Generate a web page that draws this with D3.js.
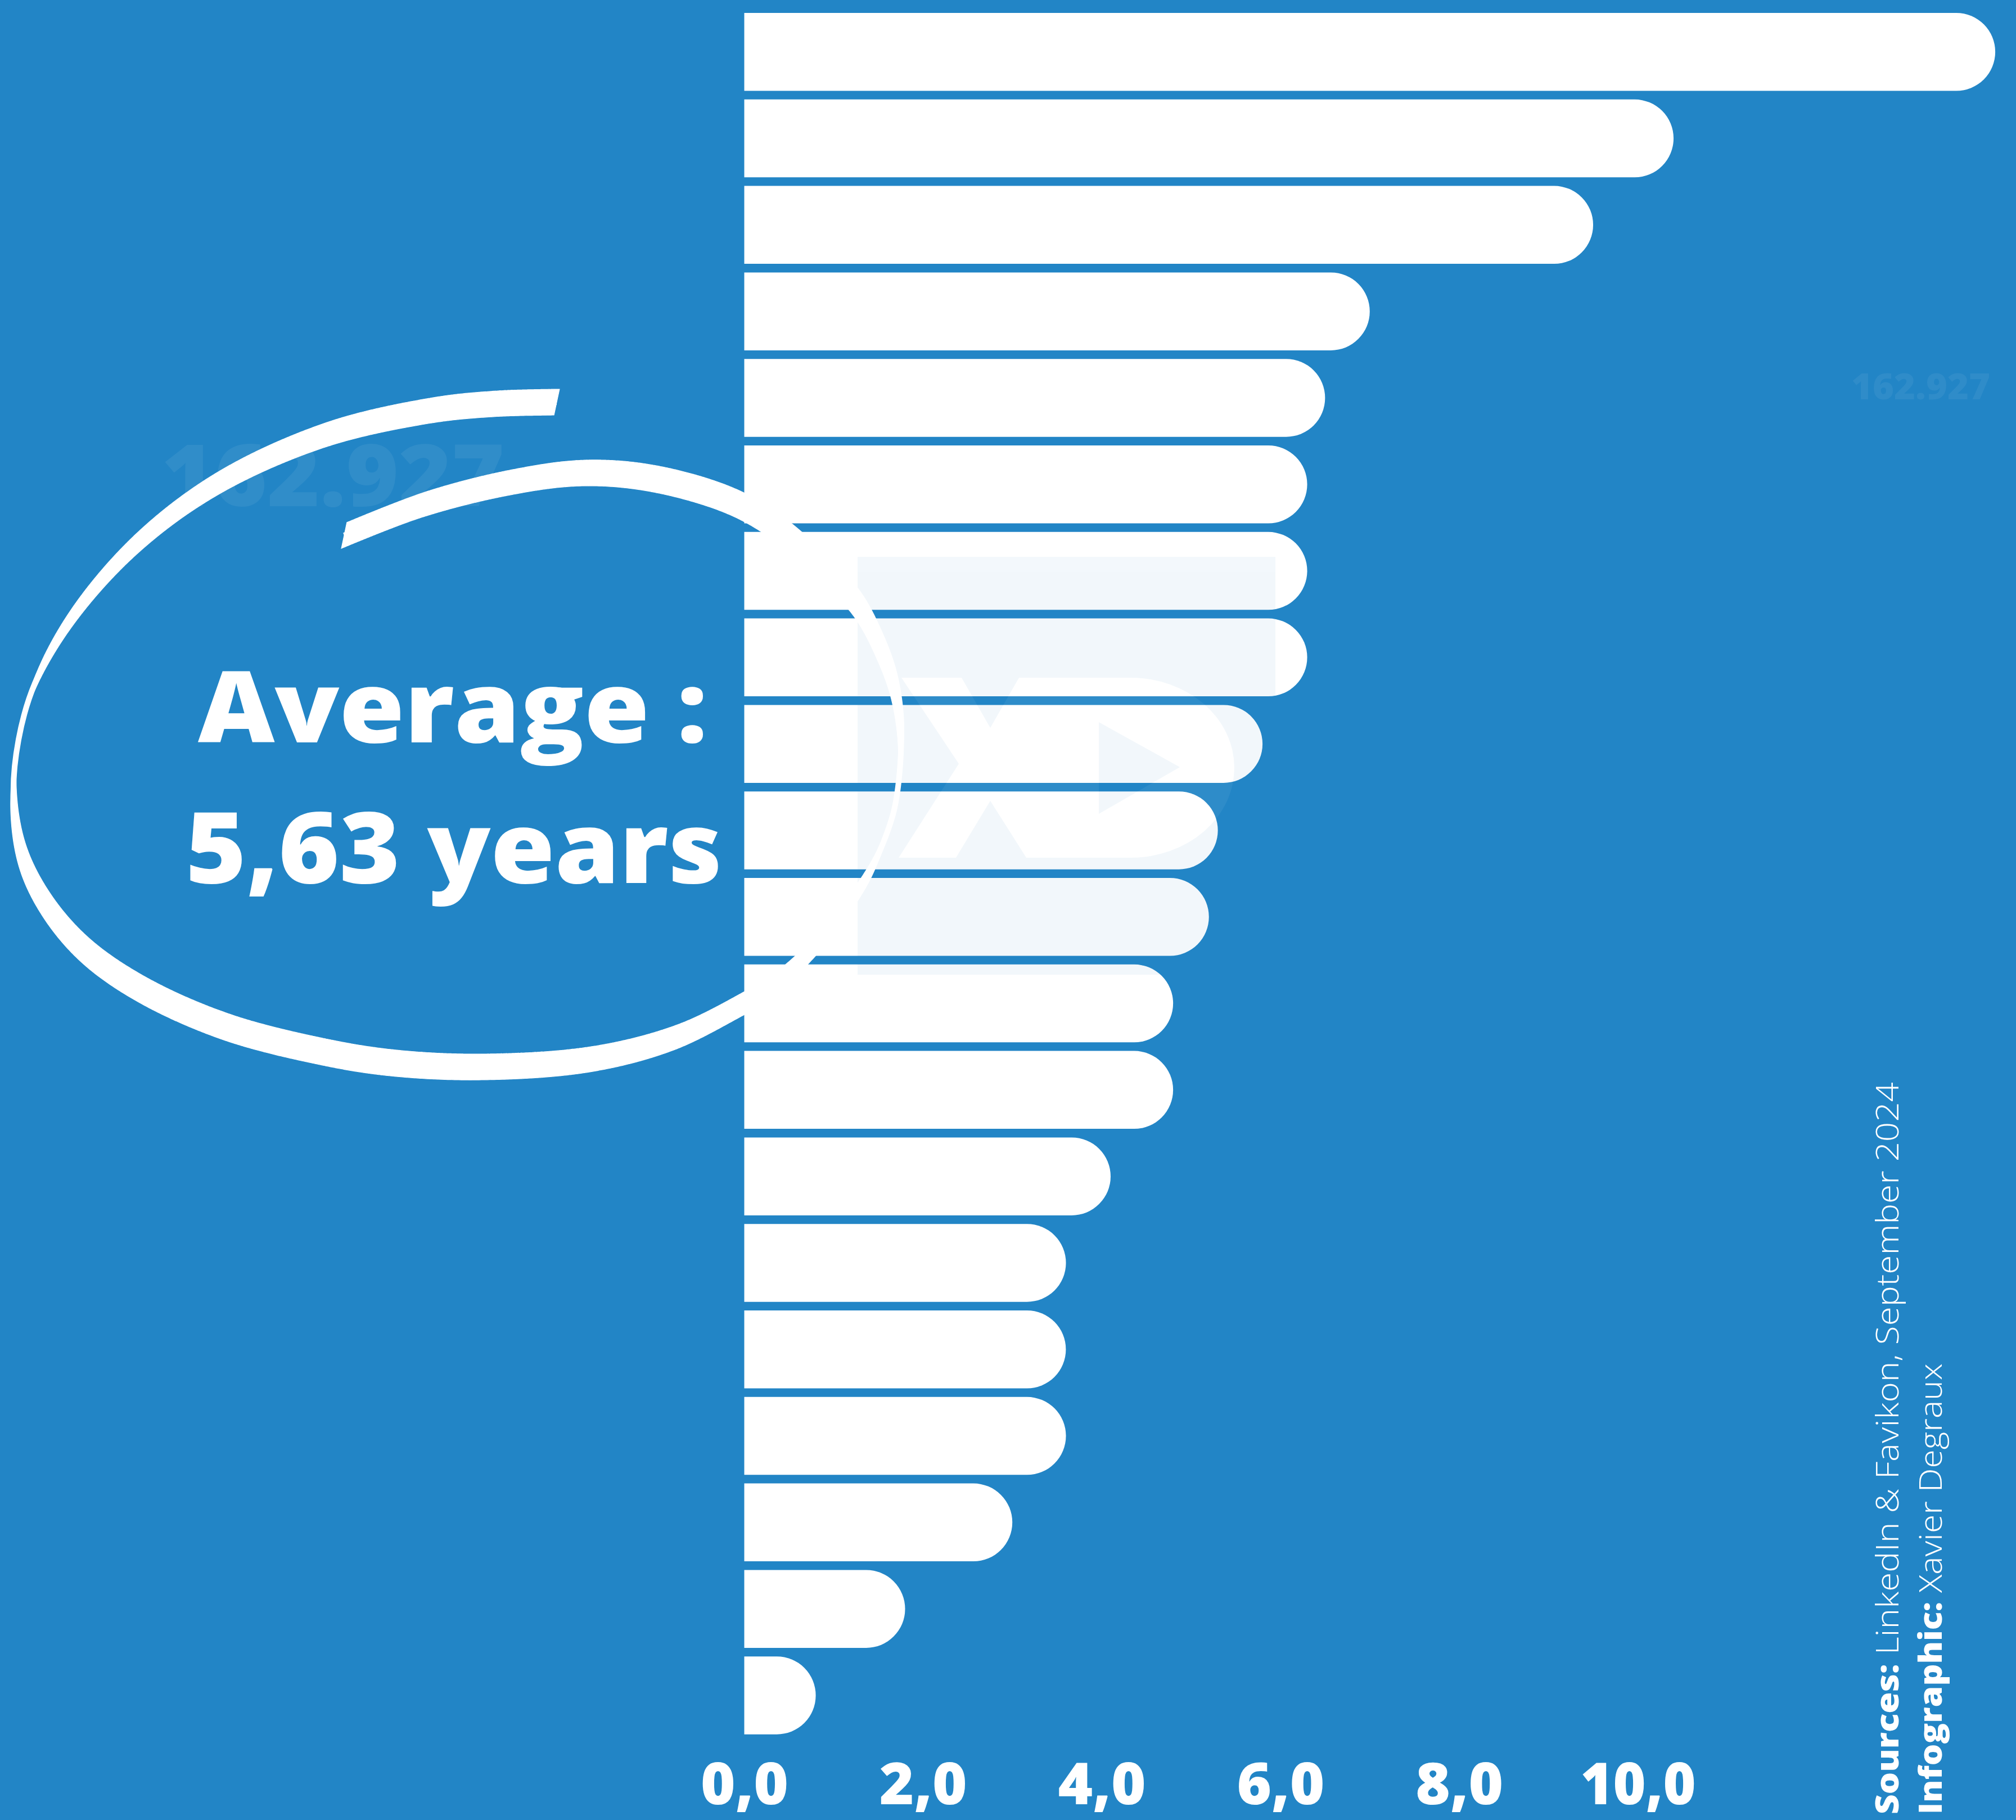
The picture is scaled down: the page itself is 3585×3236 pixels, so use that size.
<!DOCTYPE html>
<html><head><meta charset="utf-8">
<script src="https://cdn.jsdelivr.net/npm/d3@7"></script>
<style>html,body{margin:0;padding:0;background:#2285c6;} svg{display:block}</style>
</head><body>
<svg id="chart" width="3585" height="3236"></svg>
<script>
// ---------- data ----------
const categories = ["#1","#2","#3","#4","#5","#6","#7","#8","#9","#10","#11","#12","#13","#14","#15","#16","#17","#18","#19","#20"];
const values = [14.0, 10.4, 9.5, 7.0, 6.5, 6.3, 6.3, 6.3, 5.8, 5.3, 5.2, 4.8, 4.8, 4.1, 3.6, 3.6, 3.6, 3.0, 1.8, 0.8];
const tickValues = [0, 2, 4, 6, 8, 10];
const tickLabels = ["0,0", "2,0", "4,0", "6,0", "8,0", "10,0"];
const averageLines = ["Average :", "5,63 years"];
const ghostLabel = "162.927";
const sourceBold = ["Sources:", "Infographic:"];
const sourceLight = [" LinkedIn & Favikon, September 2024", " Xavier Degraux"];
// hand-drawn annotation ring (centre line of the brush stroke)
const ring = [[612,952],[754,897],[907,858],[1038,841],[1162,851],[1300,891],[1383,939],[1460,1005],[1525,1075],[1565,1150],[1590,1220],[1602,1300],[1600,1370],[1590,1440],[1570,1500],[1545,1554],[1490,1635],[1425,1708],[1370,1755],[1312,1790],[1200,1845],[1053,1883],[861,1897],[700,1890],[574,1870],[400,1825],[250,1758],[150,1688],[82,1608],[40,1522],[24,1420],[33,1315],[62,1215],[130,1095],[245,965],[390,858],[580,773],[766,730],[880,718],[990,715]];

const BG = "#2285c6";
const FONT = "'Open Sans', 'DejaVu Sans', sans-serif";
const data = categories.map((c, i) => ({cat: c, v: values[i]}));

const svg = d3.select("#chart");
svg.append("rect").attr("width", 3585).attr("height", 3236).attr("fill", BG);

// scales
const x = d3.scaleLinear().domain([0, 14]).range([1323.5, 1323.5 + 14 * 158.9]);
const y = d3.scaleBand().domain(categories).range([23, 3083.7]).paddingInner(0.0995).paddingOuter(0);

// ghost texts
svg.append("text").attr("x", 287).attr("y", 900).attr("font-family", FONT).attr("font-weight", 800)
  .attr("font-size", 153).attr("textLength", 610).attr("lengthAdjust", "spacingAndGlyphs")
  .attr("fill", "#fff").attr("fill-opacity", 0.065).text(ghostLabel);
svg.append("text").attr("x", 3292).attr("y", 710).attr("font-family", FONT).attr("font-weight", 800)
  .attr("font-size", 64).attr("textLength", 247).attr("lengthAdjust", "spacingAndGlyphs")
  .attr("fill", "#fff").attr("fill-opacity", 0.06).text(ghostLabel);

// bars
svg.append("g").selectAll("path").data(data).join("path")
  .attr("fill", "#fff")
  .attr("d", d => {
    const y0 = y(d.cat), h = y.bandwidth(), r = h / 2, x0 = x(0), x1 = x(d.v);
    return `M${x0},${y0}H${x1 - r}A${r},${r} 0 0 1 ${x1 - r},${y0 + h}H${x0}Z`;
  });

// watermark logo
const logo = svg.append("g").attr("opacity", 0.055);
logo.append("rect").attr("x", 1525).attr("y", 990).attr("width", 743).attr("height", 743).attr("fill", BG);
logo.append("path").attr("fill", "#fff")
  .attr("d", "M1603,1205L1710,1205L1761,1294L1812,1205L2011,1205A184,160 0 0 1 2011,1525L1825,1525L1761,1424L1700,1525L1598,1525L1705,1358Z");
logo.append("path").attr("fill", BG).attr("d", "M1954,1284L1954,1447L2098,1364Z");

// annotation ring: brush stroke with a near-vertical flat nib
const ringG = svg.append("g");
const centre = ringG.append("path")
  .attr("d", d3.line().curve(d3.curveCatmullRom.alpha(0.5))(ring))
  .attr("fill", "none").attr("stroke", "#fff").attr("stroke-width", 10);
const node = centre.node();
const len = node.getTotalLength();
const N = Math.ceil(len / 3);
const pts = d3.range(N + 1).map(i => { const p = node.getPointAtLength(len * i / N); return [p.x, p.y]; });
const Lnib = 47, phi = 12 * Math.PI / 180;
const hx = -Math.sin(phi) * Lnib / 2, hy = Math.cos(phi) * Lnib / 2;
let dq = "";
for (let i = 0; i < pts.length - 1; i++) {
  const a = pts[i], b = pts[i + 1];
  let q = [[a[0] - hx, a[1] - hy], [b[0] - hx, b[1] - hy], [b[0] + hx, b[1] + hy], [a[0] + hx, a[1] + hy]];
  if (d3.polygonArea(q) < 0) q.reverse();
  dq += "M" + q.map(p => p[0].toFixed(2) + "," + p[1].toFixed(2)).join("L") + "Z";
}
ringG.append("path").attr("d", dq).attr("fill", "#fff").attr("stroke", "#fff").attr("stroke-width", 1.2);

// average label
svg.append("text").attr("x", 352).attr("y", 1320).attr("font-family", FONT).attr("font-weight", 800)
  .attr("font-size", 175).attr("textLength", 906).attr("lengthAdjust", "spacingAndGlyphs")
  .attr("fill", "#fff").text(averageLines[0]);
svg.append("text").attr("x", 330).attr("y", 1570).attr("font-family", FONT).attr("font-weight", 800)
  .attr("font-size", 176).attr("textLength", 954).attr("lengthAdjust", "spacingAndGlyphs")
  .attr("fill", "#fff").text(averageLines[1]);

// x axis
const axis = d3.axisBottom(x).tickValues(tickValues).tickFormat((d, i) => tickLabels[i]).tickSize(0);
const ax = svg.append("g").attr("transform", "translate(0,3100)").call(axis);
ax.select(".domain").remove();
ax.selectAll("text").attr("dy", null).attr("y", 108)
  .attr("font-family", FONT).attr("font-weight", 800).attr("font-size", 102).attr("fill", "#fff")
  .attr("text-anchor", "middle")
  .attr("textLength", (d, i) => tickLabels[i].length > 3 ? 205 : 156).attr("lengthAdjust", "spacingAndGlyphs");

// sources
[[3376, 1302], [3453, 802]].forEach(([bx, tl], i) => {
  const t = svg.append("text").attr("transform", `translate(${bx},3226) rotate(-90)`)
    .attr("font-family", FONT).attr("font-size", 56).attr("fill", "#fff")
    .attr("textLength", tl).attr("lengthAdjust", "spacingAndGlyphs");
  t.append("tspan").attr("font-weight", 800).text(sourceBold[i]);
  t.append("tspan").attr("font-weight", 300).text(sourceLight[i]);
});
</script>
</body></html>
